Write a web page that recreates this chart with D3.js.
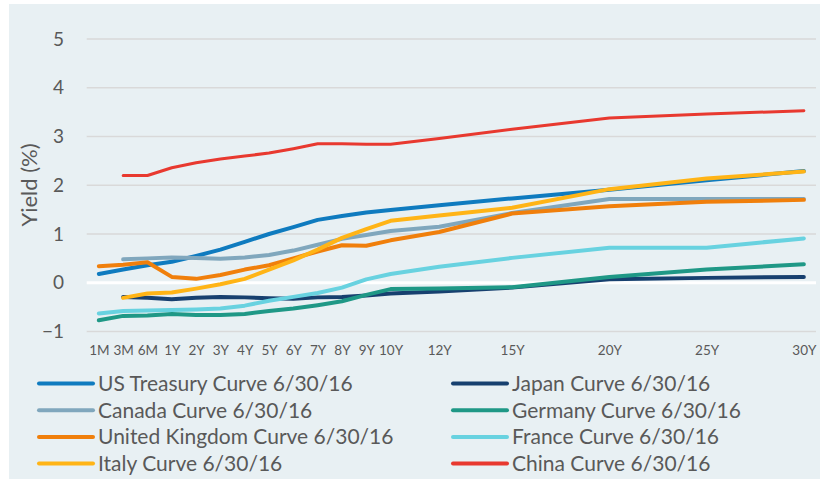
<!DOCTYPE html>
<html lang="en">
    <head>
        <meta charset="utf-8">
        <title>Yield Curves 6/30/16</title>
        <script type="text/javascript" src="https://cdn.jsdelivr.net/npm/d3@7/dist/d3.min.js"></script>
        <style type="text/css">
            body { margin: 0; background: #ffffff; }
            text { font-family: Lato, "Open Sans", sans-serif; fill: #595959; }
        </style>
    </head>
    <body>
        <script type="text/javascript">

        // category slots of the x axis (blank slots keep the spacing)
        var categories = ["1M","3M","6M","1Y","2Y","3Y","4Y","5Y","6Y","7Y","8Y","9Y","10Y","","12Y","","","15Y","","","","20Y","","","","25Y","","","","30Y"];

        // tenors that carry data
        var tenors = ["1M","3M","6M","1Y","2Y","3Y","4Y","5Y","6Y","7Y","8Y","9Y","10Y","12Y","15Y","20Y","25Y","30Y"];

        var usTreasury = [0.18, 0.27, 0.36, 0.43, 0.55, 0.68, 0.84, 1.00, 1.14, 1.29, 1.37, 1.44, 1.49, 1.59, 1.73, 1.91, 2.10, 2.29];
        var japan      = [null, -0.29, -0.31, -0.34, -0.31, -0.29, -0.30, -0.32, -0.33, -0.30, -0.29, -0.26, -0.22, -0.18, -0.10, 0.07, 0.10, 0.12];
        var canada     = [null, 0.48, 0.50, 0.52, 0.51, 0.49, 0.52, 0.57, 0.66, 0.78, 0.90, 0.98, 1.06, 1.15, 1.43, 1.72, 1.72, 1.72];
        var germany    = [-0.77, -0.68, -0.67, -0.64, -0.66, -0.66, -0.64, -0.58, -0.53, -0.46, -0.38, -0.25, -0.13, -0.12, -0.09, 0.12, 0.27, 0.38];
        var uk         = [0.34, 0.37, 0.42, 0.12, 0.08, 0.16, 0.27, 0.36, 0.50, 0.64, 0.77, 0.76, 0.87, 1.04, 1.42, 1.57, 1.66, 1.70];
        var france     = [-0.63, -0.58, -0.57, -0.56, -0.55, -0.53, -0.47, -0.37, -0.29, -0.21, -0.10, 0.07, 0.18, 0.33, 0.51, 0.72, 0.72, 0.91];
        var italy      = [null, -0.31, -0.22, -0.20, -0.12, -0.03, 0.08, 0.27, 0.46, 0.68, 0.92, 1.10, 1.27, 1.38, 1.54, 1.92, 2.14, 2.28];
        var china      = [null, 2.20, 2.20, 2.36, 2.46, 2.54, 2.60, 2.66, 2.75, 2.85, 2.85, 2.84, 2.84, 2.96, 3.15, 3.38, 3.46, 3.53];

        var seriesNames = ["US Treasury Curve 6/30/16", "Japan Curve 6/30/16", "Canada Curve 6/30/16", "Germany Curve 6/30/16",
                           "United Kingdom Curve 6/30/16", "France Curve 6/30/16", "Italy Curve 6/30/16", "China Curve 6/30/16"];
        var seriesValues = [usTreasury, japan, canada, germany, uk, france, italy, china];
        var seriesColors = ["#0f7bbf", "#17406f", "#80a7bd", "#1f9886", "#f07f0b", "#68d2e0", "#ffb416", "#e8392f"];
        var seriesWidths = [4, 4, 4, 4, 4, 4, 4, 3];

        var yTicks = [-1, 0, 1, 2, 3, 4, 5];

        var w = 820;
        var h = 479;

        var svg = d3.select("body")
                    .append("svg")
                    .attr("width", w)
                    .attr("height", h);

        // panel background
        svg.append("rect")
            .attr("x", 9)
            .attr("y", 4)
            .attr("width", w - 9)
            .attr("height", h - 4)
            .attr("fill", "#e8f0f3");

        var x = d3.scalePoint()
                    .domain(d3.range(categories.length))
                    .range([86.7, 816])
                    .padding(0.5);

        var y = d3.scaleLinear()
                    .domain([-1, 5])
                    .range([331.5, 39]);

        // gridlines
        svg.append("g")
            .selectAll("line")
            .data(yTicks)
            .enter()
            .append("line")
            .attr("x1", 86.7)
            .attr("x2", 816)
            .attr("y1", function(d) { return y(d); })
            .attr("y2", function(d) { return y(d); })
            .attr("stroke", function(d) { return d === 0 ? "#ffffff" : "#d9d9d9"; })
            .attr("stroke-width", function(d) { return d === 0 ? 3 : 1.5; });

        // y axis labels
        var yAxis = d3.axisLeft(y)
                    .tickValues(yTicks)
                    .tickFormat(d3.format("d"))
                    .tickSize(0)
                    .tickPadding(0);

        var yg = svg.append("g")
            .attr("transform", "translate(64,0)")
            .call(yAxis);
        yg.select(".domain").remove();
        yg.selectAll("text")
            .attr("font-size", 19)
            .attr("font-family", "Lato, sans-serif")
            .attr("fill", "#595959");

        // x axis labels
        var xAxis = d3.axisBottom(x)
                    .tickFormat(function(i) { return categories[i]; })
                    .tickSize(0)
                    .tickPadding(0);

        var xg = svg.append("g")
            .attr("transform", "translate(0,345)")
            .call(xAxis);
        xg.select(".domain").remove();
        xg.selectAll("text")
            .attr("font-size", 13.5)
            .attr("font-family", "Lato, sans-serif")
            .attr("fill", "#595959");

        // y axis title
        svg.append("text")
            .attr("transform", "translate(37,185) rotate(-90)")
            .attr("text-anchor", "middle")
            .attr("font-size", 22)
            .text("Yield (%)");

        // lines
        var line = d3.line()
                    .defined(function(d) { return d.value !== null; })
                    .x(function(d) { return x(categories.indexOf(d.tenor)); })
                    .y(function(d) { return y(d.value); });

        for (var s = 0; s < seriesValues.length; s++) {
            var pts = tenors.map(function(t, i) { return { tenor: t, value: seriesValues[s][i] }; });
            svg.append("path")
                .datum(pts)
                .attr("d", line)
                .attr("fill", "none")
                .attr("stroke", seriesColors[s])
                .attr("stroke-width", seriesWidths[s])
                .attr("stroke-linecap", "round")
                .attr("stroke-linejoin", "round");
        }

        // legend, two columns filled row by row
        var legend = svg.append("g")
                    .selectAll("g")
                    .data(seriesNames)
                    .enter()
                    .append("g")
                    .attr("transform", function(d, i) {
                        var col = i % 2;
                        var row = Math.floor(i / 2);
                        return "translate(" + (col === 0 ? 39 : 453) + "," + (383.5 + row * 26.7) + ")";
                    });

        legend.append("line")
            .attr("x1", 0)
            .attr("x2", 54)
            .attr("stroke", function(d, i) { return seriesColors[i]; })
            .attr("stroke-width", 4)
            .attr("stroke-linecap", "round");

        legend.append("text")
            .attr("x", 59)
            .attr("dy", "0.35em")
            .attr("font-size", 21)
            .text(function(d) { return d; });

        </script>
    </body>
</html>
